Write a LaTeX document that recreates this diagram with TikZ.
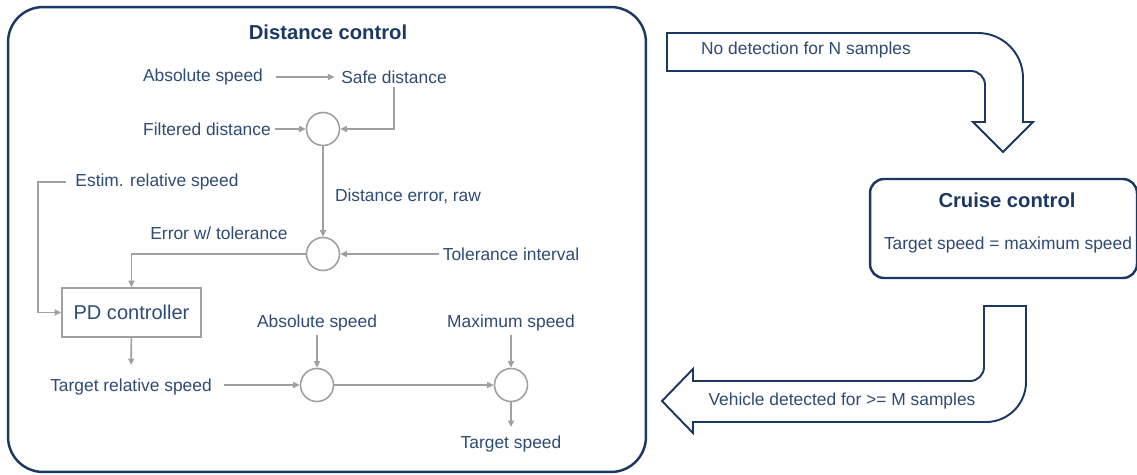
\documentclass[tikz,border=0pt]{standalone}
\usepackage{fontspec}
\setmainfont{Liberation Sans}
\usetikzlibrary{arrows.meta,positioning,calc}
\definecolor{navy}{RGB}{26,56,98}
\definecolor{inkblue}{RGB}{45,75,115}
\definecolor{linegray}{RGB}{160,160,160}
\tikzset{
  lbl/.style={text=inkblue,font=\fontsize{9.9}{12}\selectfont,inner sep=2pt},
  ttl/.style={text=navy,font=\fontsize{11.5}{14}\selectfont\bfseries,inner sep=1pt},
  sum/.style={circle,draw=linegray,line width=0.9pt,minimum size=0.66cm,inner sep=0pt},
  block/.style={draw=linegray,line width=0.9pt,minimum width=2.78cm,minimum height=0.98cm,text=inkblue,font=\fontsize{11.4}{14}\selectfont},
  panel/.style={draw=navy,line width=1.4pt,rounded corners=0.7cm,minimum width=12.76cm,minimum height=9.3cm},
  cpanel/.style={draw=navy,line width=1.4pt,rounded corners=0.28cm,minimum width=5.34cm,minimum height=1.98cm},
  arr/.style={-{Triangle[length=1.3mm,width=1.2mm]},draw=linegray,line width=0.9pt},
  bendarr/.style={draw=navy,line width=1.1pt,fill=white,line join=miter}
}

\begin{document}
\begin{tikzpicture}[x=0.02cm,y=-0.02cm]
\useasboundingbox (0,0) rectangle (1137,474);
\node[panel] (dist) at (327,239.5) {};
\node[ttl] (distttl) at (328,32) {Distance control};
\node[lbl] (abs1) at (203,77) {Absolute speed};
\node[lbl] (safe) at (394,77) {Safe distance};
\node[lbl] (filt) at (207,129) {Filtered distance};
\node[sum] (c1) at (323,129) {};
\node[lbl] (est) at (157,182) {Estim. relative speed};
\node[lbl] (err) at (408,196) {Distance error, raw};
\node[lbl] (tolw) at (219,233) {Error w/ tolerance};
\node[sum] (c2) at (323,254) {};
\node[lbl] (tol) at (511,254) {Tolerance interval};
\node[block] (pd) at (131.5,312.5) {PD controller};
\node[lbl] (abs2) at (317,323) {Absolute speed};
\node[lbl] (maxs) at (511,323) {Maximum speed};
\node[lbl] (trs) at (131,387) {Target relative speed};
\node[sum] (c3) at (317,385) {};
\node[sum] (c4) at (511,385) {};
\node[lbl] (ts) at (511,444) {Target speed};
\coordinate (estbend) at (38,312.5);

\draw[arr,shorten <=0.18cm,shorten >=0.06cm] (abs1) -- (safe);
\draw[arr] (safe.south) |- (c1);
\draw[arr] (filt) -- (c1);
\draw[arr] (c1) -- (c2);
\draw[arr] (tol) -- (c2);
\draw[arr] (c2) -| (pd);
\draw[arr,shorten <=0.12cm] (est.west) -| (estbend) -- (pd.west);
\draw[arr,shorten >=0.2cm] (pd) -- (trs);
\draw[arr,shorten <=0.16cm] (trs.east |- c3) -- (c3);
\draw[arr] (abs2) -- (c3);
\draw[arr] (c3) -- (c4);
\draw[arr] (maxs) -- (c4);
\draw[arr,shorten >=0.1cm] (c4) -- (ts);

\draw[bendarr] (667,33) -- (978,33) arc[start angle=-90,end angle=0,radius=45]
  -- (1023,122) -- (1033,122) -- (1003,152) -- (973,122) -- (985,122) -- (985,85)
  arc[start angle=0,end angle=-90,radius=14] -- (667,71) -- cycle;
\node[lbl] (nodet) at (806,50) {No detection for N samples};

\node[cpanel] (cruise) at (1003.5,228.5) {};
\node[ttl] (cruisettl) at (1007,200) {Cruise control};
\node[lbl] (cruisetxt) at (1008,245) {Target speed = maximum speed};

\draw[bendarr] (984,306) -- (1026,306) -- (1026,382) arc[start angle=0,end angle=90,radius=40]
  -- (693,422) -- (693,433) -- (662,401) -- (693,369) -- (693,381) -- (970,381)
  arc[start angle=90,end angle=0,radius=14] -- cycle;
\node[lbl] (vehdet) at (842,401) {Vehicle detected for >= M samples};
\end{tikzpicture}
\end{document}
